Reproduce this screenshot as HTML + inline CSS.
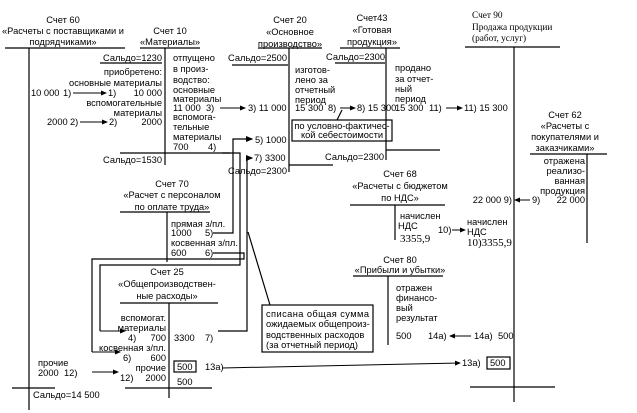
<!DOCTYPE html>
<html><head><meta charset="utf-8"><style>
html,body{margin:0;padding:0;background:#fff;}
svg{display:block}
text{font-family:"Liberation Sans",sans-serif;font-size:9.3px;fill:#000;}
.s{font-family:"Liberation Serif",serif;}
.e{text-anchor:end}.m{text-anchor:middle}
</style></head><body>
<svg width="637" height="413" viewBox="0 0 637 413" xmlns="http://www.w3.org/2000/svg">
<defs><marker id="a" markerWidth="6" markerHeight="6" refX="5" refY="3" orient="auto"><path d="M0,0.5 L6,3 L0,5.5z" fill="#000"/></marker></defs>
<g stroke="#000" stroke-width="1.2" fill="none">
<line x1="5" y1="48" x2="125" y2="48"/><line x1="29" y1="48" x2="29" y2="410"/><line x1="12" y1="388" x2="55" y2="388"/>
<line x1="140" y1="48" x2="200" y2="48"/><line x1="165" y1="48" x2="165" y2="165"/><line x1="100" y1="63" x2="162" y2="63"/><line x1="120" y1="153" x2="230" y2="153"/>
<line x1="258" y1="48" x2="322" y2="48"/><line x1="289" y1="48" x2="289" y2="172"/><line x1="232" y1="65" x2="288" y2="65"/><line x1="289" y1="165" x2="333" y2="165"/>
<rect x="292" y="120" width="100" height="21"/>
<line x1="342" y1="110" x2="337" y2="120"/>
<line x1="340" y1="48" x2="400" y2="48"/><line x1="386" y1="48" x2="386" y2="160"/><line x1="335" y1="63" x2="385" y2="63"/><line x1="386" y1="150" x2="440" y2="150"/>
<line x1="465" y1="47" x2="560" y2="47"/><line x1="514" y1="47" x2="514" y2="402"/><line x1="470" y1="387" x2="555" y2="387"/>
<line x1="530" y1="154" x2="607" y2="154"/><line x1="587" y1="154" x2="587" y2="243"/>
<line x1="350" y1="205" x2="445" y2="205"/><line x1="395" y1="205" x2="395" y2="240"/>
<line x1="353" y1="276" x2="443" y2="276"/><line x1="388" y1="276" x2="388" y2="345"/>
<line x1="120" y1="212" x2="210" y2="212"/><line x1="167" y1="212" x2="167" y2="262"/>
<line x1="120" y1="303" x2="218" y2="303"/><line x1="169" y1="303" x2="169" y2="398"/><line x1="125" y1="388" x2="212" y2="388"/>
<rect x="174" y="361" width="22" height="11"/>
<rect x="262" y="305" width="111" height="47"/>
<rect x="487" y="357" width="23" height="12"/>
<polyline points="222,153 240,153 240,265 100,265 100,331" />
<polyline points="213,233 233,233 233,139 252,139" marker-end="url(#a)"/>
<polyline points="213,253 244,253 244,259 92,259 92,352"/>
<polyline points="218,331 247,331 247,158 252,158" marker-end="url(#a)"/>
<line x1="270" y1="305" x2="248" y2="232"/>
</g>
<g stroke="#000" stroke-width="1" fill="none">
<line x1="73" y1="93" x2="106" y2="93" marker-end="url(#a)"/>
<line x1="80" y1="122" x2="107" y2="122" marker-end="url(#a)"/>
<line x1="220" y1="108" x2="245" y2="108" marker-end="url(#a)"/>
<line x1="340" y1="108" x2="355" y2="108" marker-end="url(#a)"/>
<line x1="446" y1="108" x2="462" y2="108" marker-end="url(#a)"/>
<line x1="530" y1="200" x2="515" y2="200" marker-end="url(#a)"/>
<line x1="452" y1="230" x2="465" y2="230" marker-end="url(#a)"/>
<line x1="471" y1="336" x2="450" y2="336" marker-end="url(#a)"/>
<line x1="100" y1="331" x2="125" y2="331" marker-end="url(#a)"/>
<line x1="92" y1="352" x2="120" y2="352" marker-end="url(#a)"/>
<line x1="92" y1="372" x2="118" y2="372" marker-end="url(#a)"/>
<line x1="222" y1="368" x2="460" y2="363" marker-end="url(#a)"/>
</g>
<text class="m" x="63" y="23">Счет 60</text>
<text class="m" x="63" y="34">«Расчеты с поставщиками и</text>
<text class="m" x="63" y="45">подрядчиками»</text>
<text class="m" x="170" y="34">Счет 10</text>
<text class="m" x="170" y="45">«Материалы»</text>
<text class="e" x="162" y="61">Сальдо=1230</text>
<text class="e" x="162" y="75">приобретено:</text>
<text class="e" x="162" y="86">основные материалы</text>
<text x="31" y="96">10 000</text><text x="63" y="96">1)</text><text x="108" y="96">1)</text><text class="e" x="162" y="96">10 000</text>
<text class="e" x="162" y="106">вспомогательные</text>
<text class="e" x="162" y="116">материалы</text>
<text x="47" y="125">2000</text><text x="70" y="125">2)</text><text x="109" y="125">2)</text><text class="e" x="162" y="125">2000</text>
<text class="e" x="162" y="163">Сальдо=1530</text>
<text x="173" y="61">отпущено</text><text x="173" y="72">в произ-</text><text x="173" y="83">водство:</text>
<text x="173" y="93">основные</text><text x="173" y="102">материалы</text><text x="173" y="111">11 000</text><text x="206" y="111">3)</text>
<text x="173" y="120">вспомога-</text><text x="173" y="130">тельные</text><text x="173" y="140">материалы</text><text x="173" y="150">700</text><text x="208" y="150">4)</text>
<text x="248" y="111">3) 11 000</text>
<text class="m" x="290" y="23">Счет 20</text><text class="m" x="290" y="35">«Основное</text><text class="m" x="290" y="47">производство»</text>
<text class="e" x="287" y="61">Сальдо=2500</text>
<text x="295" y="73">изготов-</text><text x="295" y="83">лено за</text><text x="295" y="93">отчетный</text><text x="295" y="103">период</text><text x="295" y="111">15 300</text><text x="328" y="111">8)</text>
<text x="357" y="111">8) 15 300</text>
<text class="m" x="342" y="129">по условно-фактичес-</text><text class="m" x="342" y="138">кой себестоимости</text>
<text x="255" y="143">5) 1000</text><text x="254" y="161">7) 3300</text>
<text class="e" x="287" y="174">Сальдо=2300</text>
<text class="m" x="372" y="21">Счет43</text><text class="m" x="372" y="33">«Готовая</text><text class="m" x="372" y="45">продукция»</text>
<text class="e" x="385" y="60">Сальдо=2300</text>
<text x="395" y="71">продано</text><text x="395" y="82">за отчет-</text><text x="395" y="92">ный</text><text x="395" y="102">период</text><text x="395" y="111">15 300</text><text x="429" y="111">11)</text>
<text x="464" y="111">11) 15 300</text>
<text class="e" x="384" y="160">Сальдо=2300</text>
<text class="s" x="472" y="18">Счет 90</text><text class="s" x="472" y="30">Продажа продукции</text><text class="s" x="472" y="41">(работ, услуг)</text>
<text class="m" x="565" y="118">Счет 62</text><text class="m" x="565" y="129">«Расчеты с</text><text class="m" x="565" y="140">покупателями и</text><text class="m" x="565" y="151">заказчиками»</text>
<text class="e" x="585" y="164">отражена</text><text class="e" x="585" y="174">реализо-</text><text class="e" x="585" y="184">ванная</text><text class="e" x="585" y="194">продукция</text>
<text class="e" x="512" y="203">22 000 9)</text><text x="532" y="203">9)</text><text class="e" x="585" y="203">22 000</text>
<text class="m" x="400" y="177">Счет 68</text><text class="m" x="400" y="189">«Расчеты с бюджетом</text><text class="m" x="400" y="201">по НДС»</text>
<text x="400" y="219">начислен</text><text x="398" y="229">НДС</text><text class="s" x="400" y="242" style="font-size:11px">3355,9</text>
<text x="438" y="233">10)</text>
<text x="467" y="225">начислен</text><text x="467" y="235">НДС</text><text class="s" x="467" y="246" style="font-size:11px">10)3355,9</text>
<text class="m" x="400" y="263">Счет 80</text><text class="m" x="400" y="273">«Прибыли и убытки»</text>
<text x="396" y="291">отражен</text><text x="396" y="301">финансо-</text><text x="396" y="311">вый</text><text x="396" y="321">результат</text>
<text x="396" y="339">500</text><text x="428" y="339">14а)</text><text x="474" y="339">14а)</text><text x="498" y="339">500</text>
<text class="m" x="172" y="187">Счет 70</text><text class="m" x="172" y="198">«Расчет с персоналом</text><text class="m" x="172" y="210">по оплате труда»</text>
<text x="171" y="227">прямая з/пл.</text><text x="171" y="236">1000</text><text x="205" y="236">5)</text><text x="171" y="246">косвенная з/пл.</text><text x="171" y="256">600</text><text x="205" y="256">6)</text>
<text class="m" x="167" y="275">Счет 25</text><text class="m" x="167" y="287">«Общепроизводствен-</text><text class="m" x="167" y="299">ные расходы»</text>
<text class="e" x="166" y="321">вспомогат.</text><text class="e" x="166" y="331">материалы</text><text x="128" y="341">4)</text><text class="e" x="166" y="341">700</text>
<text class="e" x="166" y="351">косвенная з/пл.</text><text x="123" y="361">6)</text><text class="e" x="166" y="361">600</text><text class="e" x="166" y="371">прочие</text><text x="120" y="381">12)</text><text class="e" x="166" y="381">2000</text>
<text x="174" y="341">3300</text><text x="205" y="341">7)</text><text x="177" y="370">500</text><text x="205" y="370">13а)</text><text x="177" y="385">500</text>
<text x="38" y="366">прочие</text><text x="38" y="376">2000</text><text x="64" y="376">12)</text>
<text x="33" y="398">Сальдо=14 500</text>
<text x="266" y="317" textLength="103">списана общая сумма</text><text x="266" y="327">ожидаемых общепроиз-</text><text x="266" y="338">водственных расходов</text><text x="266" y="348">(за отчетный период)</text>
<text x="462" y="366">13а)</text><text x="490" y="366">500</text>
</svg>
</body></html>
